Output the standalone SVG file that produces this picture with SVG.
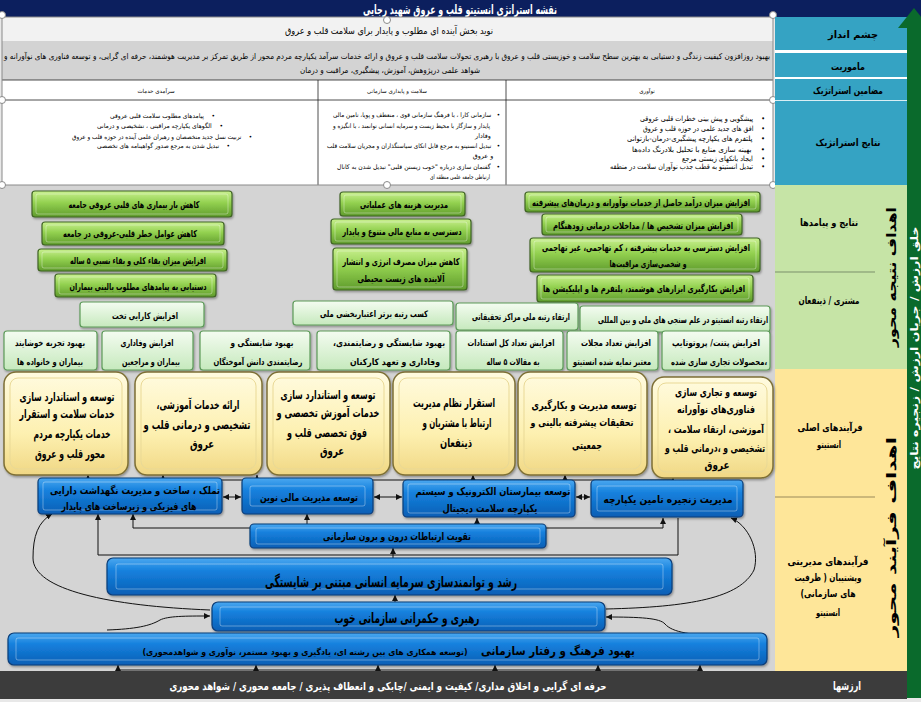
<svg xmlns="http://www.w3.org/2000/svg" width="921" height="702" viewBox="0 0 921 702">
<style>
.fa{font-family:"DejaVu Sans","Noto Sans",sans-serif;direction:rtl;text-anchor:middle;fill:#000}
.b{font-weight:bold}
.lbl{font-size:10px;font-weight:bold}
.hd{font-size:5.5px}
.bl{font-size:6.4px}
.bl3{font-size:7.2px}
.gt{font-size:9.5px;font-weight:bold}
.lt{font-size:9px;font-weight:bold}
.yt{font-size:12px;font-weight:bold}
.yt6{font-size:11px;font-weight:bold}
.yt5{font-size:10.5px;font-weight:bold}
.bt{font-size:10.5px;font-weight:bold}
.w{fill:#fff}
.dg{fill:url(#gDark);stroke:#3f6424;stroke-width:1.2;filter:url(#sh)}
.lg{fill:url(#gLight);stroke:#5c9a58;stroke-width:1.2;filter:url(#sh)}
.yb{fill:url(#gYel);stroke:#7d6f36;stroke-width:1.5;filter:url(#sh)}
.bb{fill:url(#gBlue);stroke:#0a3d78;stroke-width:1.2;filter:url(#sh)}
.in{fill:none;stroke:#fff;stroke-opacity:0.35;stroke-width:1}
.iny{fill:none;stroke:#e9d996;stroke-width:1}
.cn{fill:none;stroke:#111;stroke-width:1}
.ar{marker-end:url(#ah)}
.da{marker-start:url(#ah);marker-end:url(#ah)}
.hdl{fill:#fff;stroke:#8a8a8a;stroke-width:1}
.tl{stroke:#222;stroke-width:0.8}
</style>
<defs>
<linearGradient id="gDark" x1="0" y1="0" x2="0" y2="1"><stop offset="0" stop-color="#c9f08f"/><stop offset="0.45" stop-color="#93d150"/><stop offset="1" stop-color="#5f9b2c"/></linearGradient>
<linearGradient id="gLight" x1="0" y1="0" x2="0" y2="1"><stop offset="0" stop-color="#f4fcf1"/><stop offset="1" stop-color="#c6e9bd"/></linearGradient>
<linearGradient id="gYel" x1="0" y1="0" x2="0" y2="1"><stop offset="0" stop-color="#fffbe0"/><stop offset="0.6" stop-color="#fdf0b0"/><stop offset="1" stop-color="#f0d784"/></linearGradient>
<linearGradient id="gBlue" x1="0" y1="0" x2="0" y2="1"><stop offset="0" stop-color="#4aa8f0"/><stop offset="0.35" stop-color="#1580dd"/><stop offset="1" stop-color="#0a5fb5"/></linearGradient>
<filter id="sh" x="-5%" y="-10%" width="115%" height="135%"><feDropShadow dx="1" dy="1.5" stdDeviation="1" flood-color="#000" flood-opacity="0.35"/></filter>
<marker id="ah" viewBox="0 0 10 10" refX="10" refY="5" markerWidth="6" markerHeight="6" markerUnits="userSpaceOnUse" orient="auto-start-reverse"><path d="M0,0 L10,5 L0,10 z" fill="#111"/></marker>
</defs>

<!-- background -->
<rect x="0" y="0" width="921" height="702" fill="#e8e8e8"/>
<rect x="0" y="185" width="775" height="486" fill="#d4d4d4"/>

<!-- title bar -->
<g id="title">
<rect x="0" y="0" width="921" height="17" fill="#0c1f5e"/>
<text class="fa b w" x="460" y="13.5" font-size="13" textLength="194" lengthAdjust="spacingAndGlyphs">نقشه استراتژی انستیتو قلب و عروق شهید رجایی</text>
</g>

<!-- top table -->
<g id="table">
<rect x="2" y="17" width="771" height="24" fill="#f2f2f2"/>
<rect x="2" y="41" width="771" height="39" fill="#d3d3d3"/>
<rect x="2" y="80" width="771" height="105" fill="#fff"/>
<line class="tl" x1="2" y1="80" x2="773" y2="80"/>
<line class="tl" x1="2" y1="100" x2="773" y2="100"/>
<line class="tl" x1="318" y1="80" x2="318" y2="185"/>
<line class="tl" x1="506" y1="80" x2="506" y2="185"/>
<rect x="2" y="17" width="771" height="168" fill="none" stroke="#8a8a8a" stroke-width="1"/>
<text class="fa" x="389" y="34" font-size="9.5" textLength="208" lengthAdjust="spacingAndGlyphs">نوید بخش آینده ای مطلوب و پایدار برای سلامت قلب و عروق</text>
<text class="fa" x="387" y="59" font-size="8" textLength="766" lengthAdjust="spacingAndGlyphs">بهبود روزافزون کیفیت زندگی و دستیابی به بهترین سطح سلامت و خوزیستی قلب و عروق با رهبری تحولات سلامت قلب و عروق و ارائه خدمات سرآمد یکپارچه مردم محور از طریق تمرکز بر مدیریت هوشمند، حرفه ای گرایی، و توسعه فناوری های نوآورانه و</text>
<text class="fa" x="390" y="73" font-size="8" textLength="180" lengthAdjust="spacingAndGlyphs">شواهد علمی درپژوهش، آموزش، پیشگیری، مراقبت و درمان</text>
<text class="fa hd" x="156" y="93">سرآمدی خدمات</text>
<text class="fa hd" x="397" y="93">سلامت و پایداری سازمانی</text>
<text class="fa hd" x="647" y="93">نوآوری</text>
<!-- column 1 bullets -->
<text class="fa bl" x="162.5" y="118" textLength="105" lengthAdjust="spacingAndGlyphs">•&#160;&#160;&#160;&#160;پیامدهای مطلوب سلامت قلبی عروقی</text>
<text class="fa bl" x="160" y="128" textLength="126" lengthAdjust="spacingAndGlyphs">•&#160;&#160;&#160;&#160;الگوهای یکپارچه مراقبتی ، تشخیصی و درمانی</text>
<text class="fa bl" x="162" y="138.5" textLength="180" lengthAdjust="spacingAndGlyphs">•&#160;&#160;&#160;&#160;تربیت نسل جدید متخصصان و رهبران علمی آینده در حوزه قلب و عروق</text>
<text class="fa bl" x="163.5" y="147.5" textLength="133" lengthAdjust="spacingAndGlyphs">•&#160;&#160;&#160;&#160;تبدیل شدن به مرجع صدور گواهینامه های تخصصی</text>
<!-- column 2 bullets -->
<text class="fa bl" x="416.5" y="117" textLength="167" lengthAdjust="spacingAndGlyphs">•&#160;&#160;&#160;سازمانی کارا ، با فرهنگ سازمانی قوی ، منعطف و پویا، تامین مالی</text>
<text class="fa bl" x="411.5" y="127.5" textLength="157" lengthAdjust="spacingAndGlyphs">پایدار و سازگار با محیط زیست و سرمایه انسانی توانمند ، با انگیزه و</text>
<text class="fa bl" x="483" y="137.5">وفادار</text>
<text class="fa bl" x="413.5" y="148" textLength="173" lengthAdjust="spacingAndGlyphs">•&#160;&#160;&#160;تبدیل انستیتو به مرجع قابل اتکای سیاستگذاران و مجریان سلامت قلب</text>
<text class="fa bl" x="483" y="158">و عروق</text>
<text class="fa bl" x="418.5" y="169" textLength="163" lengthAdjust="spacingAndGlyphs">•&#160;&#160;&#160;گفتمان سازی درباره "خوب زیستن قلبی" تبدیل شدن به کانال</text>
<text class="fa bl" x="460" y="179" textLength="60" lengthAdjust="spacingAndGlyphs">ارتباطی جامعه علمی منطقه ای</text>
<!-- column 3 bullets -->
<text class="fa bl3" x="702.5" y="121" textLength="125" lengthAdjust="spacingAndGlyphs">•&#160;&#160;&#160;&#160;پیشگویی و پیش بینی خطرات قلبی عروقی</text>
<text class="fa bl3" x="704" y="130.5" textLength="122" lengthAdjust="spacingAndGlyphs">•&#160;&#160;&#160;&#160;افق های جدید علمی در حوزه قلب و عروق</text>
<text class="fa bl3" x="696" y="140.5" textLength="138" lengthAdjust="spacingAndGlyphs">•&#160;&#160;&#160;&#160;پلتفرم های یکپارچه پیشگیری-درمان-بازتوانی</text>
<text class="fa bl3" x="698.5" y="152" textLength="133" lengthAdjust="spacingAndGlyphs">•&#160;&#160;&#160;&#160;بهینه سازی منابع با تحلیل بلادرنگ داده‌ها</text>
<text class="fa bl3" x="723.5" y="160.5" textLength="83" lengthAdjust="spacingAndGlyphs">•&#160;&#160;&#160;&#160;ایجاد بانکهای زیستی مرجع</text>
<text class="fa bl3" x="687.5" y="169" textLength="155" lengthAdjust="spacingAndGlyphs">•&#160;&#160;&#160;&#160;تبدیل انستیتو به قطب جذب نوآوران سلامت در منطقه</text>
<!-- selection handles -->
<circle class="hdl" cx="2" cy="15" r="3.5"/><circle class="hdl" cx="387" cy="20" r="3.5"/><circle class="hdl" cx="773" cy="15" r="3.5"/>
<circle class="hdl" cx="2" cy="100" r="3.5"/><circle class="hdl" cx="773" cy="100" r="3.5"/>
<circle class="hdl" cx="2" cy="185" r="3.5"/><circle class="hdl" cx="387" cy="185" r="3.5"/><circle class="hdl" cx="773" cy="185" r="3.5"/>
</g>

<!-- right label column -->
<g id="labels">
<rect x="775" y="17" width="132" height="168" fill="#35a3c3"/>
<rect x="775" y="50" width="132" height="3" fill="#fff"/>
<rect x="775" y="77" width="132" height="2" fill="#fff"/>
<rect x="775" y="100" width="132" height="1" fill="#d9eef4"/>
<text class="fa lbl" x="853" y="38" textLength="50" lengthAdjust="spacingAndGlyphs">چشم انداز</text>
<text class="fa lbl" x="848" y="70" textLength="34" lengthAdjust="spacingAndGlyphs">ماموریت</text>
<text class="fa lbl" x="848" y="94" textLength="70" lengthAdjust="spacingAndGlyphs">مضامین استراتژیک</text>
<text class="fa lbl" x="848" y="146" textLength="65" lengthAdjust="spacingAndGlyphs">نتایج استراتژیک</text>
<rect x="775" y="185" width="132" height="184" fill="#c6e4a6"/>
<line x1="775" y1="272" x2="875" y2="272" stroke="#7a8f6a" stroke-width="1"/>
<rect x="775" y="369" width="132" height="302" fill="#fee699"/>
<line x1="775" y1="497" x2="875" y2="497" stroke="#9a8a5a" stroke-width="1"/>
<text class="fa lbl" x="829" y="226" textLength="58" lengthAdjust="spacingAndGlyphs">نتایج و پیامدها</text>
<text class="fa lbl" x="829" y="304" textLength="61" lengthAdjust="spacingAndGlyphs">مشتری / ذینفعان</text>
<text class="fa lbl" x="830" y="431" textLength="65" lengthAdjust="spacingAndGlyphs">فرآیندهای اصلی</text>
<text class="fa lbl" x="829" y="448" textLength="24" lengthAdjust="spacingAndGlyphs">انستیتو</text>
<text class="fa lbl" x="828" y="565" textLength="81" lengthAdjust="spacingAndGlyphs">فرآیندهای مدیریتی</text>
<text class="fa lbl" x="828" y="581" textLength="67" lengthAdjust="spacingAndGlyphs">وپشتیبان ( ظرفیت</text>
<text class="fa lbl" x="828" y="597" textLength="55" lengthAdjust="spacingAndGlyphs">های سازمانی)</text>
<text class="fa lbl" x="828" y="616" textLength="24" lengthAdjust="spacingAndGlyphs">انستیتو</text>
<text class="fa b" font-size="13" transform="translate(896,277) rotate(-90)" textLength="140" lengthAdjust="spacingAndGlyphs">اهداف نتیجه محور</text>
<text class="fa b" font-size="13" transform="translate(896,537) rotate(-90)" textLength="200" lengthAdjust="spacingAndGlyphs">اهداف فرآیند محور</text>
<rect x="907" y="26" width="14" height="672" fill="#0a6a2c"/>
<polygon points="898,28 914,8 930,28" fill="#0a6a2c"/>
<text class="fa b w" font-size="10" transform="translate(918,348) rotate(-90)" textLength="243" lengthAdjust="spacingAndGlyphs">خلق ارزش / جریان ارزش / زنجیره نتایج</text>
</g>

<!-- values bar -->
<g id="values">
<rect x="0" y="671" width="907" height="28" fill="#3c3c3c"/>
<text class="fa b w" x="388" y="690" font-size="11" textLength="437" lengthAdjust="spacingAndGlyphs">حرفه ای گرایی و اخلاق مداری/ کیفیت و ایمنی /چابکی و انعطاف پذیری / جامعه محوری / شواهد محوری</text>
<text class="fa b w" x="847" y="690" font-size="11.5" textLength="28" lengthAdjust="spacingAndGlyphs">ارزشها</text>
</g>

<!-- connectors -->
<g id="connectors">
<path class="cn" d="M88 480 H673"/>
<path class="cn ar" d="M88 480 V475"/>
<path class="cn ar" d="M163 480 V475"/>
<path class="cn ar" d="M257 480 V475"/>
<path class="cn ar" d="M473 480 V475"/>
<path class="cn ar" d="M565 480 V475"/>
<path class="cn ar" d="M673 480 V478"/>
<path class="cn da" d="M223 497 H241"/>
<path class="cn da" d="M374 497 H402"/>
<path class="cn da" d="M576 497 H590"/>
<path class="cn ar" d="M250 528 H133 V514"/>
<path class="cn ar" d="M307 524 V514"/>
<path class="cn ar" d="M477 524 V518"/>
<path class="cn ar" d="M546 528 H663 V518"/>
<path class="cn ar" d="M678 518 V555 H98 V514"/>
<path class="cn ar" d="M393 558 V548"/>
<path class="cn ar" d="M395 602 V595"/>
<path class="cn ar" d="M210 610 C110 606 33 590 33 558 C33 536 38 522 52 514"/>
<path class="cn ar" d="M107 630 C135 629 150 626 160 620 C168 616 185 616 210 616"/>
<path class="cn ar" d="M606 609 C690 607 740 598 754 570 C760 550 748 525 731 518"/>
<path class="cn ar" d="M735 636 C690 636 672 632 665 624 C660 618 640 617 606 617"/>
<path class="cn" d="M118 670 H700"/>
<path class="cn ar" d="M118 670 V665"/>
<path class="cn ar" d="M256 670 V665"/>
<path class="cn ar" d="M378 670 V665"/>
<path class="cn ar" d="M495 670 V665"/>
<path class="cn ar" d="M598 670 V665"/>
<path class="cn ar" d="M700 670 V665"/>
</g>

<!-- outcome boxes (dark green) -->
<g id="g1"><rect class="dg" x="32" y="191" width="200" height="26" rx="3"/><rect class="in" x="36" y="194" width="192" height="20" rx="2"/><text class="fa gt" x="134" y="208" textLength="131" lengthAdjust="spacingAndGlyphs">کاهش بار بیماری های قلبی عروقی جامعه</text></g>
<g id="g2"><rect class="dg" x="42" y="222" width="182" height="23" rx="3"/><rect class="in" x="46" y="225" width="174" height="17" rx="2"/><text class="fa gt" x="130" y="237" textLength="134" lengthAdjust="spacingAndGlyphs">کاهش عوامل خطر قلبی-عروقی در جامعه</text></g>
<g id="g3"><rect class="dg" x="38" y="249" width="189" height="22" rx="3"/><rect class="in" x="42" y="252" width="181" height="16" rx="2"/><text class="fa gt" x="138" y="264" textLength="136" lengthAdjust="spacingAndGlyphs">افزایش میزان بقاء کلی و بقاء نسبی ۵ ساله</text></g>
<g id="g4"><rect class="dg" x="55" y="274" width="161" height="23" rx="3"/><rect class="in" x="59" y="277" width="153" height="17" rx="2"/><text class="fa gt" x="138" y="290" textLength="137" lengthAdjust="spacingAndGlyphs">دستیابی به پیامدهای مطلوب بالینی بیماران</text></g>
<g id="m13"><rect class="dg" x="340" y="192" width="125" height="24" rx="3"/><rect class="in" x="344" y="195" width="117" height="18" rx="2"/><text class="fa gt" x="404" y="208" textLength="88" lengthAdjust="spacingAndGlyphs">مدیریت هزینه های عملیاتی</text></g>
<g id="m14"><rect class="dg" x="331" y="219" width="140" height="25" rx="3"/><rect class="in" x="335" y="222" width="132" height="19" rx="2"/><text class="fa gt" x="402" y="235" textLength="119" lengthAdjust="spacingAndGlyphs">دسترسی به منابع مالی متنوع و پایدار</text></g>
<g id="m15"><rect class="dg" x="333" y="248" width="134" height="42" rx="3"/><rect class="in" x="337" y="251" width="126" height="36" rx="2"/><text class="fa gt" x="401" y="265" textLength="117" lengthAdjust="spacingAndGlyphs">کاهش میزان مصرف انرژی و انتشار</text><text class="fa gt" x="401" y="282" textLength="87" lengthAdjust="spacingAndGlyphs">آلاینده های زیست محیطی</text></g>
<g id="r19"><rect class="dg" x="525" y="192" width="235" height="20" rx="3"/><rect class="in" x="529" y="195" width="227" height="14" rx="2"/><text class="fa gt" x="641" y="206" textLength="218" lengthAdjust="spacingAndGlyphs">افزایش میزان درآمد حاصل از خدمات نوآورانه و درمان‌های پیشرفته</text></g>
<g id="r20"><rect class="dg" x="542" y="214" width="200" height="21" rx="3"/><rect class="in" x="546" y="217" width="192" height="15" rx="2"/><text class="fa gt" x="643" y="228.5" textLength="180" lengthAdjust="spacingAndGlyphs">افزایش میزان تشخیص ها / مداخلات درمانی زودهنگام</text></g>
<g id="r21"><rect class="dg" x="530" y="238" width="230" height="34" rx="3"/><rect class="in" x="534" y="241" width="222" height="28" rx="2"/><text class="fa gt" x="646" y="251" textLength="208" lengthAdjust="spacingAndGlyphs">افزایش دسترسی به خدمات پیشرفته ، کم تهاجمی، غیر تهاجمی</text><text class="fa gt" x="648" y="267" textLength="77" lengthAdjust="spacingAndGlyphs">و شخصی‌سازی مراقبت‌ها</text></g>
<g id="r22"><rect class="dg" x="537" y="275" width="216" height="27" rx="3"/><rect class="in" x="541" y="278" width="208" height="21" rx="2"/><text class="fa gt" x="644" y="292" textLength="202" lengthAdjust="spacingAndGlyphs">افزایش بکارگیری ابزارهای هوشمند، پلتفرم ها و اپلیکیشن ها</text></g>

<!-- customer boxes (light green) -->
<g id="l5"><rect class="lg" x="80" y="302" width="124" height="25" rx="3"/><text class="fa lt" x="145" y="319" textLength="66" lengthAdjust="spacingAndGlyphs">افزایش کارایی تخت</text></g>
<g id="m16"><rect class="lg" x="293" y="301" width="160" height="24" rx="3"/><text class="fa lt" x="374" y="317" textLength="108" lengthAdjust="spacingAndGlyphs">کسب رتبه برتر اعتباربخشی ملی</text></g>
<g id="m17"><rect class="lg" x="456" y="303" width="122" height="27" rx="3"/><text class="fa lt" x="521" y="320" textLength="98" lengthAdjust="spacingAndGlyphs">ارتقاء رتبه ملی مراکز تحقیقاتی</text></g>
<g id="m18"><rect class="lg" x="580" y="306" width="190" height="26" rx="3"/><text class="fa lt" x="683" y="323" textLength="170" lengthAdjust="spacingAndGlyphs">ارتقاء رتبه انستیتو در علم سنجی های ملی و بین المللی</text></g>
<g id="l6"><rect class="lg" x="4" y="331" width="93" height="39" rx="3"/><text class="fa lt" x="50" y="346" textLength="70" lengthAdjust="spacingAndGlyphs">بهبود تجربه خوشایند</text><text class="fa lt" x="50" y="365" textLength="66" lengthAdjust="spacingAndGlyphs">بیماران و خانواده ها</text></g>
<g id="l7"><rect class="lg" x="102" y="331" width="91" height="39" rx="3"/><text class="fa lt" x="147" y="346" textLength="53" lengthAdjust="spacingAndGlyphs">افزایش وفاداری</text><text class="fa lt" x="151" y="365" textLength="58" lengthAdjust="spacingAndGlyphs">بیماران و مراجعین</text></g>
<g id="l8"><rect class="lg" x="200" y="331" width="110" height="39" rx="3"/><text class="fa lt" x="262" y="346" textLength="63" lengthAdjust="spacingAndGlyphs">بهبود شایستگی و</text><text class="fa lt" x="258" y="365" textLength="89" lengthAdjust="spacingAndGlyphs">رضایتمندی دانش آموختگان</text></g>
<g id="l9"><rect class="lg" x="317" y="331" width="133" height="39" rx="3"/><text class="fa lt" x="389" y="346" textLength="112" lengthAdjust="spacingAndGlyphs">بهبود شایستگی و رضایتمندی،</text><text class="fa lt" x="395" y="365" textLength="90" lengthAdjust="spacingAndGlyphs">وفاداری و تعهد کارکنان</text></g>
<g id="l10"><rect class="lg" x="456" y="331" width="107" height="39" rx="3"/><text class="fa lt" x="511" y="346" textLength="87" lengthAdjust="spacingAndGlyphs">افزایش تعداد کل استنادات</text><text class="fa lt" x="513" y="365" textLength="53" lengthAdjust="spacingAndGlyphs">به مقالات ۵ ساله</text></g>
<g id="l11"><rect class="lg" x="567" y="331" width="91" height="39" rx="3"/><text class="fa lt" x="616" y="346" textLength="70" lengthAdjust="spacingAndGlyphs">افزایش تعداد مجلات</text><text class="fa lt" x="612" y="365" textLength="78" lengthAdjust="spacingAndGlyphs">معتبر نمایه شده انستیتو</text></g>
<g id="l12"><rect class="lg" x="662" y="331" width="108" height="39" rx="3"/><text class="fa lt" x="716" y="346" textLength="88" lengthAdjust="spacingAndGlyphs">افزایش پتنت/ پروتوتایپ</text><text class="fa lt" x="719" y="365" textLength="96" lengthAdjust="spacingAndGlyphs">،محصولات تجاری سازی شده</text></g>

<!-- core process boxes (yellow) -->
<g id="y1"><rect class="yb" x="4" y="372" width="124" height="103" rx="12"/><rect class="iny" x="10" y="378" width="112" height="91" rx="8"/>
<text class="fa yt" x="67" y="401" textLength="95" lengthAdjust="spacingAndGlyphs">توسعه و استاندارد سازی</text>
<text class="fa yt" x="67" y="418" textLength="95" lengthAdjust="spacingAndGlyphs">خدمات سلامت و استقرار</text>
<text class="fa yt" x="72" y="438" textLength="77" lengthAdjust="spacingAndGlyphs">خدمات یکپارچه مردم</text>
<text class="fa yt" x="70" y="458" textLength="70" lengthAdjust="spacingAndGlyphs">محور قلب و عروق</text></g>
<g id="y2"><rect class="yb" x="135" y="372" width="127" height="103" rx="12"/><rect class="iny" x="141" y="378" width="115" height="91" rx="8"/>
<text class="fa yt" x="198" y="409" textLength="83" lengthAdjust="spacingAndGlyphs">ارائه خدمات آموزشی،</text>
<text class="fa yt" x="197" y="429" textLength="107" lengthAdjust="spacingAndGlyphs">تشخیصی و درمانی قلب و</text>
<text class="fa yt" x="202" y="448" textLength="24" lengthAdjust="spacingAndGlyphs">عروق</text></g>
<g id="y3"><rect class="yb" x="267" y="372" width="123" height="103" rx="12"/><rect class="iny" x="273" y="378" width="111" height="91" rx="8"/>
<text class="fa yt" x="328" y="399" textLength="95" lengthAdjust="spacingAndGlyphs">توسعه و استاندارد سازی</text>
<text class="fa yt" x="328" y="417" textLength="103" lengthAdjust="spacingAndGlyphs">خدمات آموزش تخصصی و</text>
<text class="fa yt" x="327" y="437" textLength="80" lengthAdjust="spacingAndGlyphs">فوق تخصصی قلب و</text>
<text class="fa yt" x="332" y="455" textLength="24" lengthAdjust="spacingAndGlyphs">عروق</text></g>
<g id="y4"><rect class="yb" x="393" y="372" width="122" height="103" rx="12"/><rect class="iny" x="399" y="378" width="110" height="91" rx="8"/>
<text class="fa yt" x="454" y="407" textLength="82" lengthAdjust="spacingAndGlyphs">استقرار نظام مدیریت</text>
<text class="fa yt" x="457" y="427" textLength="69" lengthAdjust="spacingAndGlyphs">ارتباط با مشتریان و</text>
<text class="fa yt" x="456" y="447" textLength="32" lengthAdjust="spacingAndGlyphs">ذینفعان</text></g>
<g id="y5"><rect class="yb" x="518" y="372" width="129" height="103" rx="12"/><rect class="iny" x="524" y="378" width="117" height="91" rx="8"/>
<text class="fa yt6" x="584" y="409" textLength="105" lengthAdjust="spacingAndGlyphs">توسعه مدیریت و بکارگیری</text>
<text class="fa yt5" x="582" y="426" textLength="103" lengthAdjust="spacingAndGlyphs">تحقیقات پیشرفته بالینی و</text>
<text class="fa yt6" x="587" y="449" textLength="30" lengthAdjust="spacingAndGlyphs">جمعیتی</text></g>
<g id="y6"><rect class="yb" x="652" y="377" width="121" height="101" rx="12"/><rect class="iny" x="658" y="383" width="109" height="89" rx="8"/>
<text class="fa yt6" x="716" y="396" textLength="82" lengthAdjust="spacingAndGlyphs">توسعه و تجاری سازی</text>
<text class="fa yt6" x="716" y="413" textLength="78" lengthAdjust="spacingAndGlyphs">فناوری‌های نوآورانه</text>
<text class="fa yt5" x="716" y="433" textLength="96" lengthAdjust="spacingAndGlyphs">آموزشی، ارتقاء سلامت ،</text>
<text class="fa yt6" x="715" y="452" textLength="100" lengthAdjust="spacingAndGlyphs">تشخیصی و ،درمانی قلب و</text>
<text class="fa yt6" x="717" y="469" textLength="25" lengthAdjust="spacingAndGlyphs">عروق</text></g>

<!-- support process boxes (blue) -->
<g id="b1"><rect class="bb" x="38" y="478" width="184" height="36" rx="4"/><rect class="in" x="43" y="482" width="174" height="28" rx="2"/>
<text class="fa bt" x="135" y="494" textLength="170" lengthAdjust="spacingAndGlyphs">تملک ، ساخت و مدیریت نگهداشت دارایی</text>
<text class="fa bt" x="129" y="509.5" textLength="135" lengthAdjust="spacingAndGlyphs">های فیزیکی و زیرساخت های پایدار</text></g>
<g id="b2"><rect class="bb" x="242" y="478" width="131" height="36" rx="4"/><rect class="in" x="250" y="486" width="115" height="20" rx="2"/>
<text class="fa bt" x="309" y="501" textLength="98" lengthAdjust="spacingAndGlyphs">توسعه مدیریت مالی نوین</text></g>
<g id="b3"><rect class="bb" x="403" y="480" width="172" height="37" rx="4"/><rect class="in" x="408" y="484" width="162" height="29" rx="2"/>
<text class="fa bt" x="493" y="494.5" textLength="155" lengthAdjust="spacingAndGlyphs">توسعه بیمارستان الکترونیک و سیستم</text>
<text class="fa bt" x="490" y="511.5" textLength="95" lengthAdjust="spacingAndGlyphs">یکپارچه سلامت دیجیتال</text></g>
<g id="b4"><rect class="bb" x="591" y="480" width="152" height="37" rx="4"/><rect class="in" x="597" y="486" width="140" height="25" rx="2"/>
<text class="fa bt" x="668" y="502.5" textLength="129" lengthAdjust="spacingAndGlyphs">مدیریت زنجیره تامین یکپارچه</text></g>
<g id="b5"><rect class="bb" x="250" y="524" width="296" height="24" rx="4"/><rect class="in" x="256" y="528" width="284" height="16" rx="2"/>
<text class="fa bt" x="397" y="540" textLength="148" lengthAdjust="spacingAndGlyphs">تقویت ارتباطات درون و برون سازمانی</text></g>
<g id="b6"><rect class="bb" x="107" y="558" width="565" height="37" rx="6"/><rect class="in" x="116" y="564" width="547" height="25" rx="2"/>
<text class="fa b" x="391" y="587" font-size="15" textLength="252" lengthAdjust="spacingAndGlyphs">رشد و توانمندسازی سرمایه انسانی مبتنی بر شایستگی</text></g>
<g id="b7"><rect class="bb" x="212" y="602" width="393" height="29" rx="6"/><rect class="in" x="220" y="607" width="377" height="19" rx="2"/>
<text class="fa b" x="407" y="622.5" font-size="14" textLength="145" lengthAdjust="spacingAndGlyphs">رهبری و حکمرانی سازمانی خوب</text></g>
<g id="b8"><rect class="bb" x="8" y="633" width="759" height="32" rx="6"/><rect class="in" x="16" y="638" width="743" height="22" rx="2"/>
<text class="fa b" x="558" y="655" font-size="12" textLength="154" lengthAdjust="spacingAndGlyphs">بهبود فرهنگ و رفتار سازمانی</text>
<text class="fa b" x="305" y="655" font-size="8.5" textLength="325" lengthAdjust="spacingAndGlyphs">(توسعه همکاری های بین رشته ای، یادگیری و بهبود مستمر، نوآوری و شواهدمحوری)</text></g>
</svg>
